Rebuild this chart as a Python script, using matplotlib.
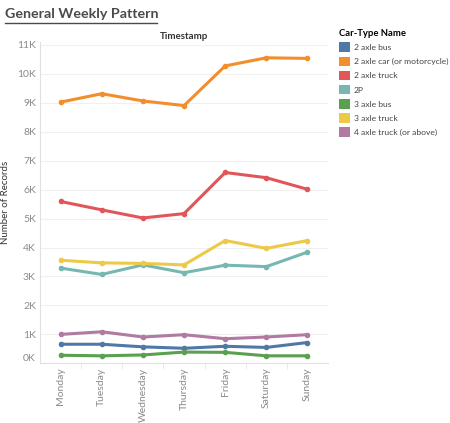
import matplotlib.pyplot as plt
from matplotlib.patches import Patch

# days on the x axis
days = ['Monday', 'Tuesday', 'Wednesday', 'Thursday', 'Friday', 'Saturday', 'Sunday']

# records per car type
bus_2axle = [660, 660, 570, 520, 590, 550, 720]
car_2axle = [9020, 9310, 9060, 8900, 10270, 10550, 10530]
truck_2axle = [5590, 5300, 5020, 5170, 6590, 6410, 6010]
p2 = [3290, 3070, 3400, 3130, 3390, 3340, 3840]
bus_3axle = [280, 260, 290, 390, 380, 260, 260]
truck_3axle = [3560, 3470, 3450, 3400, 4240, 3970, 4240]
truck_4axle = [1000, 1090, 910, 990, 850, 910, 990]

names = ['2 axle bus', '2 axle car (or motorcycle)', '2 axle truck', '2P',
         '3 axle bus', '3 axle truck', '4 axle truck (or above)']
series = [bus_2axle, car_2axle, truck_2axle, p2, bus_3axle, truck_3axle, truck_4axle]
colors = ['#4e79a7', '#f28e2b', '#e15759', '#76b7b2', '#59a14f', '#edc948', '#b07aa1']

yticks = list(range(0, 12000, 1000))

plt.rcParams['font.family'] = ['Lato', 'DejaVu Sans']

fig = plt.figure(figsize=(4.5, 4.23), dpi=100)
ax = fig.add_axes([0.089, 0.141, 0.64, 0.76])

x = list(range(len(days)))
for vals, c in zip(series, colors):
    ax.plot(x, vals, color=c, linewidth=2.2, marker='o', markersize=3, zorder=3)

ax.set_xlim(-0.5, len(days) - 0.5)
ax.set_ylim(0, 11100)
ax.set_yticks(yticks)
ax.set_yticklabels([f'{v // 1000}K' for v in yticks], color='#8a8a8a', fontsize=7.5)
ax.set_xticks(x)
ax.set_xticklabels(days, rotation=90, color='#8a8a8a', fontsize=7.5)
ax.tick_params(axis='both', length=0, pad=3)
ax.set_xticks([i + 0.5 for i in x[:-1]], minor=True)
ax.tick_params(axis='x', which='minor', length=4, color='#e6e6e6')
ax.grid(axis='y', color='#f0f0f0', linewidth=0.8)
ax.set_axisbelow(True)
for s in ['top', 'right']:
    ax.spines[s].set_visible(False)
for s in ['left', 'bottom']:
    ax.spines[s].set_color('#e0e0e0')

# Tableau nudges the bottom label up
ax.get_yticklabels()[0].set_va('bottom')

ax.set_ylabel('Number of Records', fontsize=7, color='#333333')
ax.yaxis.set_label_coords(-0.105, 0.5)
ax.set_title('Timestamp', fontsize=7, fontweight='bold', color='#333333', pad=2)

fig.text(0.011, 0.967, 'General Weekly Pattern', fontsize=10.3, fontweight='bold',
         color='#4a4a4a', va='center')
fig.add_artist(plt.Line2D([0.011, 0.349], [0.945, 0.945], color='#4a4a4a', linewidth=1))

handles = [Patch(facecolor=c, edgecolor='none') for c in colors]
leg = fig.legend(handles, names, title='Car-Type Name', loc='upper left',
                 bbox_to_anchor=(0.745, 0.94), frameon=False, fontsize=6.1,
                 title_fontproperties={'weight': 'bold', 'size': 6.8},
                 handlelength=1.35, handleheight=1.35, handletextpad=0.45,
                 labelspacing=0.55, borderaxespad=0, alignment='left')
for t in leg.get_texts():
    t.set_color('#444444')

plt.savefig('out.png', dpi=100)
